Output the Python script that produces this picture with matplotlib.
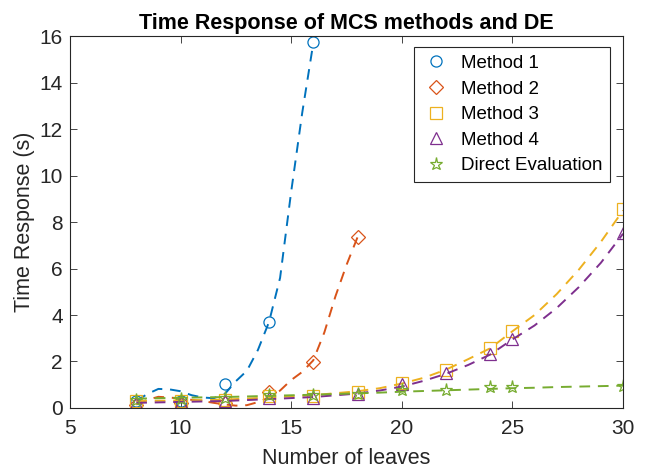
import numpy as np
from matplotlib import pyplot as plt

plt.rcParams["font.family"] = ["Liberation Sans", "DejaVu Sans"]

# measured points (markers)
x_m1 = [8, 10, 12, 14, 16]
y_m1 = [0.28, 0.30, 1.01, 3.69, 15.74]
x_m2 = [8, 10, 12, 14, 16, 18]
y_m2 = [0.13, 0.20, 0.20, 0.70, 1.96, 7.36]
x_m34 = [8, 10, 12, 14, 16, 18, 20, 22, 24, 25, 30]
y_m3 = [0.30, 0.30, 0.35, 0.50, 0.52, 0.70, 1.07, 1.64, 2.57, 3.31, 8.55]
y_m4 = [0.22, 0.25, 0.30, 0.42, 0.45, 0.60, 1.02, 1.49, 2.32, 2.95, 7.54]
y_de = [0.36, 0.38, 0.42, 0.56, 0.56, 0.59, 0.76, 0.77, 0.89, 0.89, 0.95]

# fitted curves (dashed)
xf_m1 = [8, 8.5, 9, 9.5, 10, 10.5, 11, 11.5, 12, 12.5, 13, 13.5, 14, 14.5, 15, 15.5, 16]
yf_m1 = [0.30, 0.60, 0.82, 0.80, 0.72, 0.55, 0.45, 0.42, 0.60, 1.15, 1.60, 2.50, 3.70,
         5.60, 9.30, 12.70, 15.70]
xf_m2 = [8, 8.5, 9, 9.5, 10, 10.5, 11, 11.5, 12, 12.5, 13, 13.5, 14, 14.5, 15, 15.5,
         16, 16.5, 17, 17.5, 18]
yf_m2 = [0.15, 0.35, 0.48, 0.45, 0.40, 0.35, 0.30, 0.22, 0.15, 0.10, 0.12, 0.25, 0.45,
         0.75, 1.20, 1.55, 2.05, 3.25, 4.80, 6.15, 7.35]
xf_long = [8, 10, 12, 14, 16, 18, 19, 20, 21, 22, 23, 24, 25, 26, 27, 28, 29, 30]
yf_m3 = [0.30, 0.32, 0.36, 0.45, 0.55, 0.72, 0.85, 1.05, 1.30, 1.65, 2.10, 2.57, 3.30,
         4.00, 4.90, 5.95, 7.15, 8.50]
yf_m4 = [0.22, 0.26, 0.30, 0.38, 0.47, 0.62, 0.75, 0.92, 1.17, 1.47, 1.85, 2.30, 2.95,
         3.55, 4.30, 5.20, 6.25, 7.50]
yf_de = [0.40, 0.44, 0.47, 0.52, 0.57, 0.63, 0.66, 0.70, 0.73, 0.76, 0.79, 0.82, 0.85,
         0.87, 0.90, 0.92, 0.94, 0.96]

colors = ["#0072BD", "#D95319", "#EDB120", "#7E2F8E", "#77AC30"]

fig = plt.figure(figsize=(6.47, 4.70), dpi=100)
ax = fig.add_axes([0.108, 0.132, 0.855, 0.791])

series = [
    ("Method 1", x_m1, y_m1, xf_m1, yf_m1, "o"),
    ("Method 2", x_m2, y_m2, xf_m2, yf_m2, "D"),
    ("Method 3", x_m34, y_m3, xf_long, yf_m3, "s"),
    ("Method 4", x_m34, y_m4, xf_long, yf_m4, "^"),
    ("Direct Evaluation", x_m34, y_de, xf_long, yf_de, "*"),
]

for (label, xs, ys, xf, yf, mk), c in zip(series, colors):
    ms = 8
    if mk == "D":
        ms = 7
    if mk == "*":
        ms = 9.5
    ax.plot(xs, ys, linestyle="none", marker=mk, markersize=ms,
            markerfacecolor="none", markeredgecolor=c, markeredgewidth=0.9, label=label)
    ax.plot(xf, yf, "--", color=c, linewidth=1.4, dashes=(5.5, 4))

ax.set_xlim(5, 30)
ax.set_ylim(0, 16)
ax.set_xticks([5, 10, 15, 20, 25, 30])
ax.set_yticks(range(0, 17, 2))
ax.tick_params(direction="in", top=True, right=True, length=5, width=0.6,
               labelsize=15, colors="#262626", labelcolor="#262626")
ax.tick_params(axis="x", pad=8)
ax.tick_params(axis="y", pad=5)
for sp in ax.spines.values():
    sp.set_linewidth(0.8)
    sp.set_color("#262626")

ax.set_xlabel("Number of leaves", fontsize=15.5, color="#262626", labelpad=7)
ax.set_ylabel("Time Response (s)", fontsize=15.5, color="#262626", labelpad=3)
ax.set_title("Time Response of MCS methods and DE", fontsize=15.5, fontweight="bold", pad=5)

leg = ax.legend(loc="upper right", fontsize=13.5, fancybox=False, framealpha=1,
                edgecolor="#262626", borderpad=0.4, labelspacing=0.45,
                handletextpad=0.5, handlelength=1.6, borderaxespad=0,
                bbox_to_anchor=(0.976, 0.97))
leg.get_frame().set_linewidth(0.8)

fig.savefig("out.png", dpi=100)
